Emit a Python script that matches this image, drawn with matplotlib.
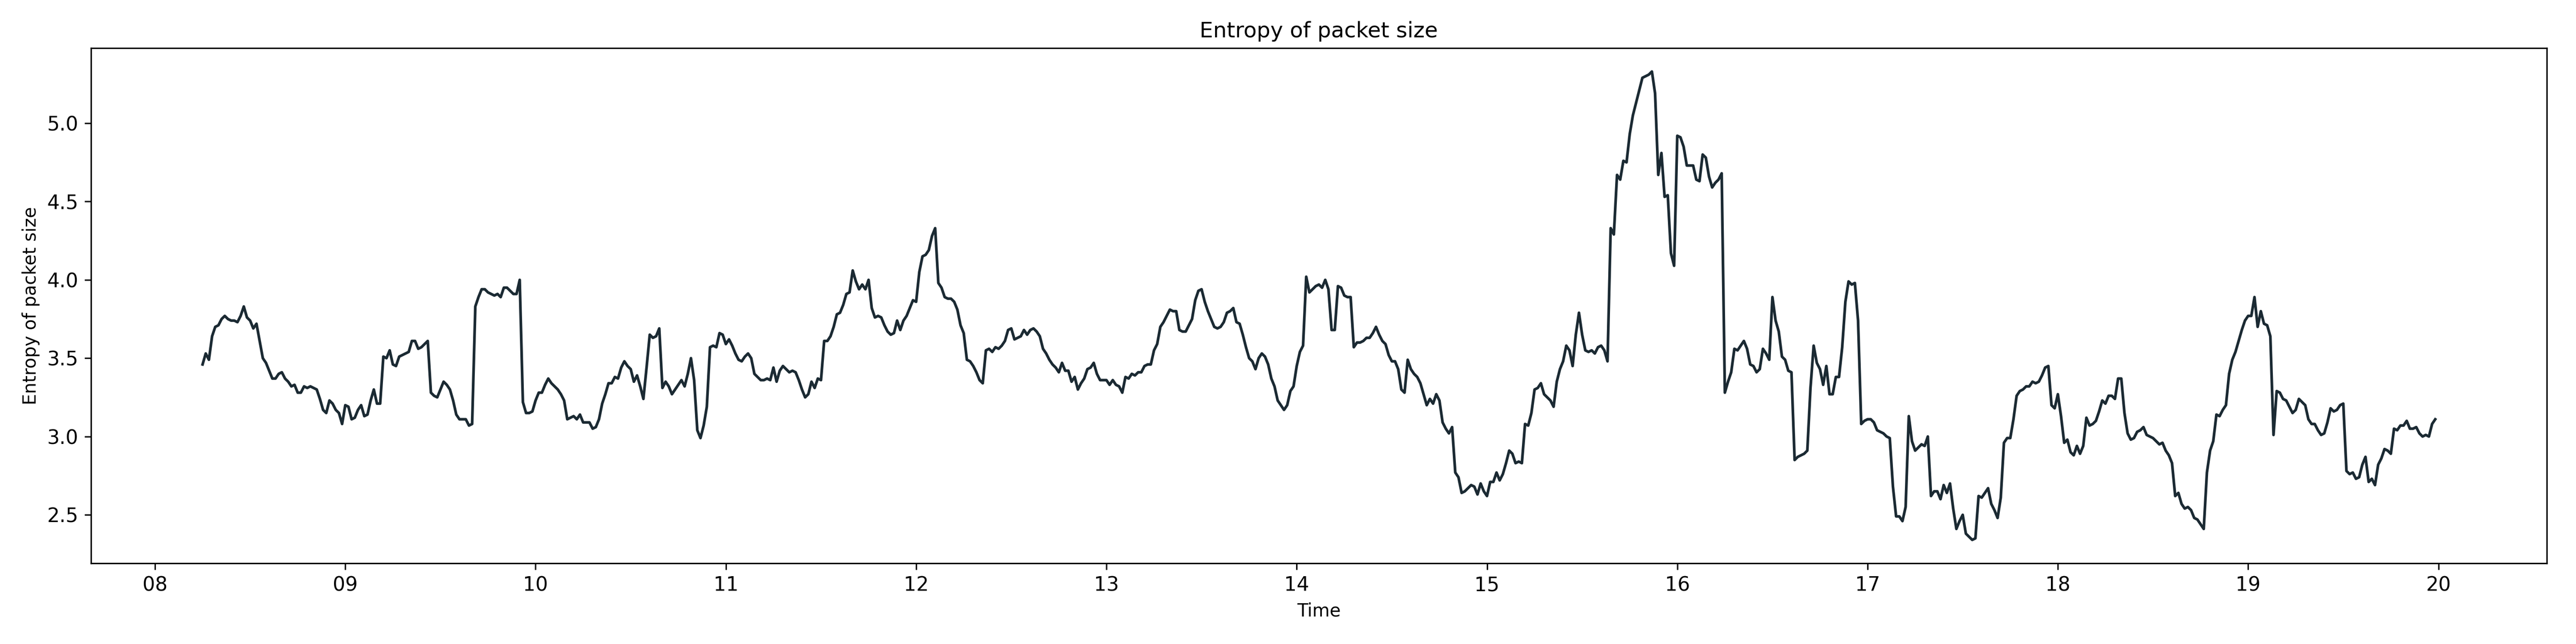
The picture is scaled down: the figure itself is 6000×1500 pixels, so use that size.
import matplotlib
matplotlib.use("Agg")
import matplotlib.pyplot as plt
import matplotlib.dates as mdates
import pandas as pd

# One reading per minute, starting 08:15
start_time = "2024-01-01 08:15"

entropy_08 = [3.46, 3.53, 3.49, 3.64, 3.70, 3.71, 3.75, 3.77, 3.75, 3.74,
              3.74, 3.73, 3.77, 3.83, 3.76, 3.74, 3.69, 3.72, 3.61, 3.50,
              3.47, 3.42, 3.37, 3.37, 3.40, 3.41, 3.37, 3.35, 3.32, 3.33,
              3.28, 3.28, 3.32, 3.31, 3.32, 3.31, 3.30, 3.24, 3.17, 3.15,
              3.23, 3.21, 3.17, 3.15, 3.08]
entropy_09 = [3.20, 3.19, 3.11, 3.12, 3.17, 3.20, 3.13, 3.14, 3.23, 3.30,
              3.21, 3.21, 3.51, 3.50, 3.55, 3.46, 3.45, 3.51, 3.52, 3.53,
              3.54, 3.61, 3.61, 3.56, 3.57, 3.59, 3.61, 3.28, 3.26, 3.25,
              3.30, 3.35, 3.33, 3.30, 3.23, 3.14, 3.11, 3.11, 3.11, 3.07,
              3.08, 3.83, 3.89, 3.94, 3.94, 3.92, 3.91, 3.90, 3.91, 3.89,
              3.95, 3.95, 3.93, 3.91, 3.91, 4.00, 3.22, 3.15, 3.15, 3.16]
entropy_10 = [3.23, 3.28, 3.28, 3.33, 3.37, 3.34, 3.32, 3.30, 3.27, 3.23,
              3.11, 3.12, 3.13, 3.11, 3.14, 3.09, 3.09, 3.09, 3.05, 3.06,
              3.11, 3.21, 3.27, 3.34, 3.34, 3.38, 3.37, 3.44, 3.48, 3.45,
              3.43, 3.35, 3.39, 3.32, 3.24, 3.44, 3.65, 3.63, 3.64, 3.69,
              3.31, 3.35, 3.32, 3.27, 3.30, 3.33, 3.36, 3.32, 3.40, 3.50,
              3.36, 3.04, 2.99, 3.07, 3.19, 3.57, 3.58, 3.57, 3.66, 3.65]
entropy_11 = [3.59, 3.62, 3.58, 3.53, 3.49, 3.48, 3.51, 3.53, 3.50, 3.40,
              3.38, 3.36, 3.36, 3.37, 3.36, 3.44, 3.35, 3.42, 3.45, 3.43,
              3.41, 3.42, 3.41, 3.36, 3.30, 3.25, 3.27, 3.35, 3.31, 3.37,
              3.36, 3.61, 3.61, 3.64, 3.70, 3.78, 3.79, 3.84, 3.91, 3.92,
              4.06, 3.99, 3.94, 3.97, 3.94, 4.00, 3.82, 3.76, 3.77, 3.76,
              3.71, 3.67, 3.65, 3.66, 3.74, 3.68, 3.74, 3.77, 3.82, 3.87]
entropy_12 = [3.86, 4.05, 4.15, 4.16, 4.19, 4.28, 4.33, 3.98, 3.95, 3.89,
              3.88, 3.88, 3.86, 3.81, 3.71, 3.66, 3.49, 3.48, 3.45, 3.41,
              3.36, 3.34, 3.55, 3.56, 3.54, 3.57, 3.56, 3.58, 3.61, 3.68,
              3.69, 3.62, 3.63, 3.64, 3.68, 3.65, 3.68, 3.69, 3.67, 3.64,
              3.56, 3.53, 3.49, 3.46, 3.44, 3.41, 3.47, 3.42, 3.42, 3.35,
              3.38, 3.30, 3.34, 3.37, 3.43, 3.44, 3.47, 3.40, 3.36, 3.36]
entropy_13 = [3.36, 3.33, 3.36, 3.33, 3.32, 3.28, 3.38, 3.37, 3.40, 3.39,
              3.41, 3.41, 3.45, 3.46, 3.46, 3.55, 3.59, 3.70, 3.73, 3.77,
              3.81, 3.80, 3.80, 3.68, 3.67, 3.67, 3.71, 3.75, 3.87, 3.93,
              3.94, 3.86, 3.80, 3.75, 3.70, 3.69, 3.70, 3.73, 3.79, 3.80,
              3.82, 3.73, 3.72, 3.65, 3.57, 3.50, 3.48, 3.43, 3.50, 3.53,
              3.51, 3.46, 3.37, 3.32, 3.23, 3.20, 3.17, 3.20, 3.29, 3.32]
entropy_14 = [3.45, 3.54, 3.58, 4.02, 3.92, 3.94, 3.96, 3.97, 3.95, 4.00,
              3.94, 3.68, 3.68, 3.96, 3.95, 3.90, 3.89, 3.89, 3.57, 3.60,
              3.60, 3.61, 3.63, 3.63, 3.66, 3.70, 3.65, 3.61, 3.59, 3.52,
              3.48, 3.48, 3.43, 3.30, 3.28, 3.49, 3.43, 3.40, 3.38, 3.34,
              3.27, 3.20, 3.24, 3.21, 3.27, 3.23, 3.09, 3.05, 3.02, 3.06,
              2.77, 2.74, 2.64, 2.65, 2.67, 2.69, 2.68, 2.63, 2.70, 2.65]
entropy_15 = [2.62, 2.71, 2.71, 2.77, 2.72, 2.76, 2.83, 2.91, 2.89, 2.83,
              2.84, 2.83, 3.08, 3.07, 3.15, 3.30, 3.31, 3.34, 3.27, 3.25,
              3.23, 3.19, 3.35, 3.43, 3.48, 3.58, 3.55, 3.45, 3.65, 3.79,
              3.65, 3.55, 3.54, 3.55, 3.53, 3.57, 3.58, 3.55, 3.48, 4.33,
              4.29, 4.67, 4.64, 4.76, 4.75, 4.93, 5.05, 5.13, 5.21, 5.29,
              5.30, 5.31, 5.33, 5.19, 4.67, 4.81, 4.53, 4.54, 4.17, 4.09]
entropy_16 = [4.92, 4.91, 4.85, 4.73, 4.73, 4.73, 4.64, 4.63, 4.80, 4.78,
              4.66, 4.59, 4.62, 4.64, 4.68, 3.28, 3.35, 3.41, 3.56, 3.55,
              3.58, 3.61, 3.56, 3.46, 3.45, 3.41, 3.43, 3.56, 3.53, 3.49,
              3.89, 3.74, 3.67, 3.51, 3.49, 3.42, 3.41, 2.85, 2.87, 2.88,
              2.89, 2.91, 3.31, 3.58, 3.47, 3.43, 3.33, 3.45, 3.27, 3.27,
              3.38, 3.38, 3.57, 3.86, 3.99, 3.97, 3.98, 3.74, 3.08, 3.10]
entropy_17 = [3.11, 3.11, 3.09, 3.04, 3.03, 3.02, 3.00, 2.99, 2.68, 2.49,
              2.49, 2.46, 2.55, 3.13, 2.97, 2.91, 2.93, 2.95, 2.94, 3.00,
              2.62, 2.65, 2.65, 2.60, 2.69, 2.64, 2.70, 2.54, 2.41, 2.46,
              2.50, 2.38, 2.36, 2.34, 2.35, 2.62, 2.61, 2.64, 2.67, 2.57,
              2.53, 2.48, 2.61, 2.96, 2.99, 2.99, 3.11, 3.26, 3.29, 3.30,
              3.32, 3.32, 3.35, 3.34, 3.35, 3.39, 3.44, 3.45, 3.20, 3.18]
entropy_18 = [3.27, 3.13, 2.96, 2.98, 2.90, 2.88, 2.94, 2.89, 2.94, 3.12,
              3.07, 3.08, 3.10, 3.16, 3.23, 3.21, 3.26, 3.26, 3.24, 3.37,
              3.37, 3.15, 3.02, 2.98, 2.99, 3.03, 3.04, 3.06, 3.01, 3.00,
              2.99, 2.97, 2.95, 2.96, 2.91, 2.88, 2.83, 2.62, 2.64, 2.57,
              2.54, 2.55, 2.53, 2.48, 2.47, 2.44, 2.41, 2.77, 2.91, 2.97,
              3.14, 3.13, 3.17, 3.20, 3.40, 3.49, 3.54, 3.61, 3.68, 3.74]
entropy_19 = [3.77, 3.77, 3.89, 3.70, 3.80, 3.72, 3.71, 3.64, 3.01, 3.29,
              3.28, 3.24, 3.23, 3.19, 3.15, 3.17, 3.24, 3.22, 3.20, 3.11,
              3.08, 3.08, 3.04, 3.01, 3.02, 3.09, 3.18, 3.16, 3.17, 3.20,
              3.21, 2.78, 2.76, 2.77, 2.73, 2.74, 2.82, 2.87, 2.71, 2.73,
              2.69, 2.82, 2.86, 2.92, 2.91, 2.89, 3.05, 3.04, 3.07, 3.07,
              3.10, 3.05, 3.05, 3.06, 3.02, 3.00, 3.01, 3.00, 3.08, 3.11]

title = "Entropy of packet size"
x_label = "Time"
y_label = "Entropy of packet size"

values = (entropy_08 + entropy_09 + entropy_10 + entropy_11 + entropy_12 +
          entropy_13 + entropy_14 + entropy_15 + entropy_16 + entropy_17 +
          entropy_18 + entropy_19)
times = pd.date_range(start_time, periods=len(values), freq="min")

fig = plt.figure(figsize=(20, 5), dpi=300)
ax = fig.add_axes([0.0353, 0.1253, 0.9534, 0.8000])
ax.plot(times, values, color="#1b2a33", linewidth=1.5)

ax.xaxis.set_major_locator(mdates.HourLocator())
ax.xaxis.set_major_formatter(mdates.DateFormatter("%H"))
ax.tick_params(axis="both", labelsize=11)
ax.set_title(title, fontsize=12)
ax.set_xlabel(x_label, fontsize=10)
ax.set_ylabel(y_label, fontsize=10)

fig.savefig("out.png", dpi=300)
